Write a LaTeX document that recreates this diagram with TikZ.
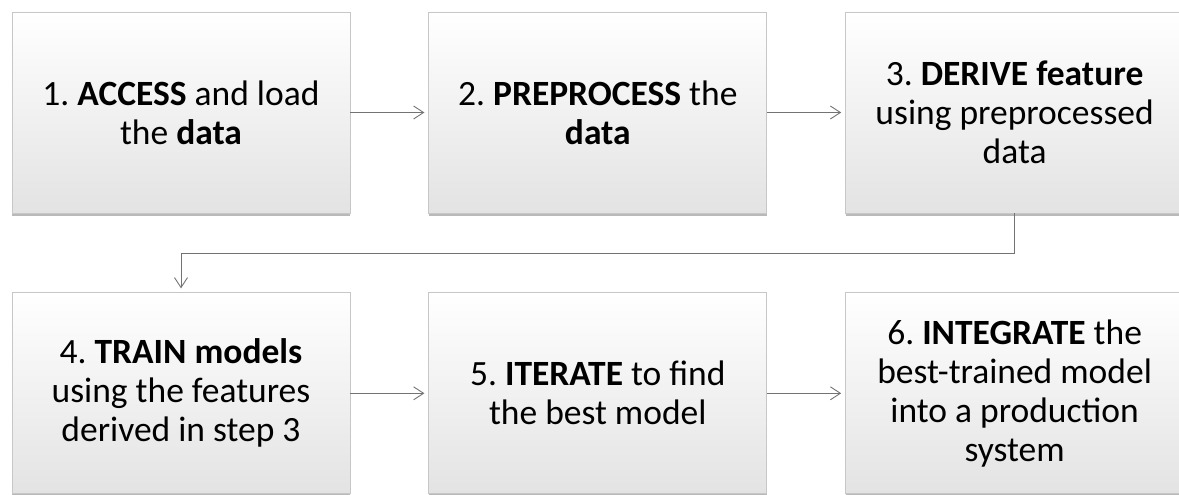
\documentclass[tikz,border=0pt]{standalone}
\usepackage{fontspec}
\setmainfont{Carlito}
\usetikzlibrary{arrows.meta,positioning,shadows}

\begin{document}
\frenchspacing
\begin{tikzpicture}[x=1pt, y=1pt, >={Straight Barb[length=10pt, width=13pt]},
		stepbox/.style={draw=black!22, line width=0.8pt, minimum width=338pt, minimum height=201pt,
			top color=white, middle color=white, bottom color=black!11, text=black, align=center,
			font=\fontsize{35.5}{39}\selectfont,
			drop shadow={shadow xshift=0pt, shadow yshift=-2.5pt, fill=black!55, opacity=.5}},
		flow/.style={->, draw=black!55, line width=0.9pt, shorten >=4pt}]
	\clip (0,0) rectangle (1179,-495);
	% first row
	\node[stepbox] (b1) at (181,-112.5) {1. \textbf{ACCESS} and load\\the \textbf{data}};
	\node[stepbox, right=78pt of b1] (b2) {2. \textbf{PREPROCESS} the\\\textbf{data}};
	\node[stepbox, right=78pt of b2] (b3) {3. \textbf{DERIVE feature}\\using preprocessed\\data};
	% second row
	\node[stepbox, below=79pt of b1] (b4) {4. \textbf{TRAIN models}\\using the features\\derived in step 3};
	\node[stepbox, right=78pt of b4] (b5) {5. \textbf{ITERATE} to find\\the best model};
	\node[stepbox, right=78pt of b5] (b6) {6. \textbf{INTEGRATE} the\\best-trained model\\into a production\\system};
	% arrows
	\draw[flow] (b1) -- (b2);
	\draw[flow] (b2) -- (b3);
	\draw[flow] (b3.south) -- ++(0,-40) -| (b4.north);
	\draw[flow] (b4) -- (b5);
	\draw[flow] (b5) -- (b6);
\end{tikzpicture}
\end{document}
